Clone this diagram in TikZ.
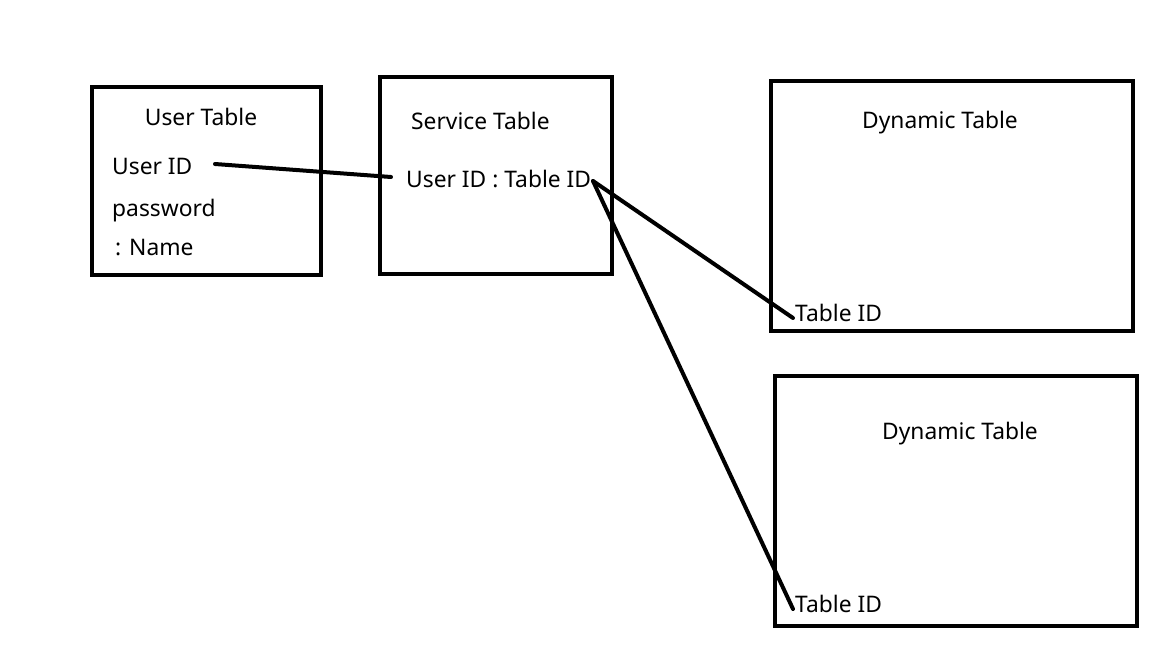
\documentclass[tikz,border=0pt]{standalone}
\usepackage{fontspec}
\setmainfont{Noto Sans}
\usetikzlibrary{positioning}

\begin{document}
\begin{tikzpicture}[x=1pt, y=-1pt, tbl/.style={draw, line width=4pt}, txt/.style={anchor=base west, inner sep=0pt, font=\fontsize{22.8}{27}\selectfont}, ttl/.style={txt, anchor=base}, link/.style={line width=4pt, line cap=round}]
		\useasboundingbox (0,0) rectangle (1152,648);
		% boxes
		\draw[tbl] (92,87) rectangle (321,275); \draw[tbl] (380,77) rectangle (612,274);
		\draw[tbl] (771,81) rectangle (1133,331); \draw[tbl] (775,376) rectangle (1137,626);
		% titles
		\node[ttl] (ut) at (201,125) {User Table}; \node[txt] (st) at (411,129) {Service Table};
		\node[ttl] (dt1) at (940,128) {Dynamic Table}; \node[ttl] (dt2) at (960,439) {Dynamic Table};
		% fields
		\node[txt] (uid) at (112,174) {User ID}; \node[txt] (pw) at (112,216) {password};
		\node[txt] (nm) at (115,255) {: Name};
		\node[txt] (sid) at (406,187) {User ID : Table ID};
		\node[txt] (tid1) at (795,321) {Table ID}; \node[txt] (tid2) at (795,612) {Table ID};
		% link ends
		\coordinate (a) at (215,164); \coordinate (b) at (391,177); \coordinate (c) at (593,181);
		\coordinate (d) at (793,318); \coordinate (e) at (793,609);
		\draw[link] (a) -- (b); \draw[link] (c) -- (d); \draw[link] (c) -- (e);
	\end{tikzpicture}
\end{document}
